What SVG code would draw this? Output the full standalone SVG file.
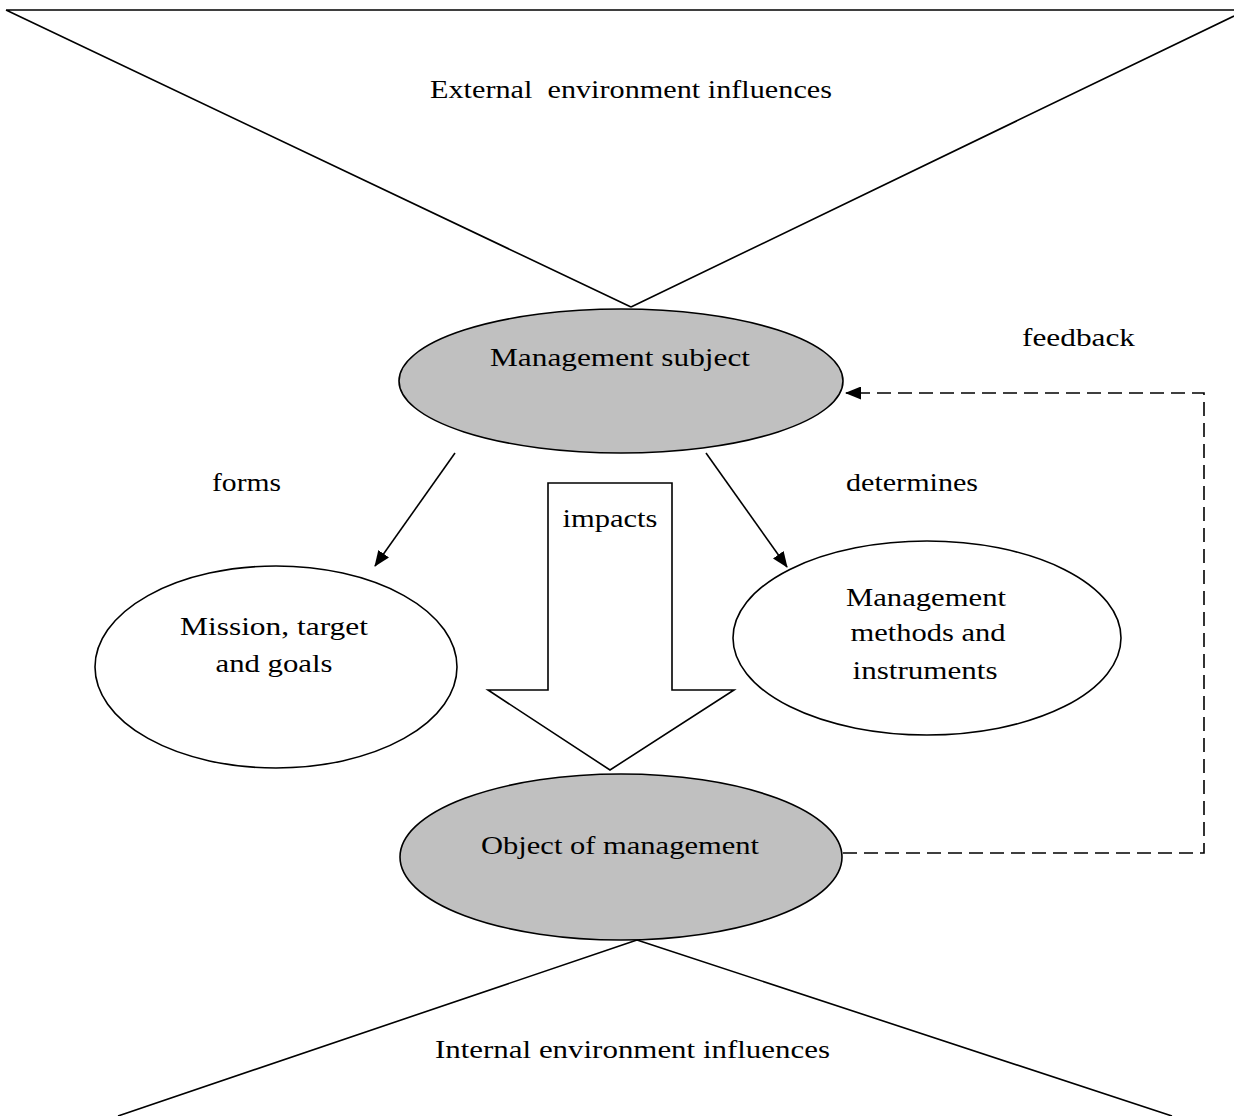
<svg xmlns="http://www.w3.org/2000/svg" width="1234" height="1116" viewBox="0 0 1234 1116">
<style>
.t{font-family:"Liberation Serif","Times New Roman",serif;font-size:26px;fill:#000}
.ln{stroke:#000;stroke-width:1.6;fill:none}
.el{stroke:#000;stroke-width:1.6}
</style>
<defs>
<marker id="ah" markerWidth="16" markerHeight="13" refX="15" refY="6.5" orient="auto" markerUnits="userSpaceOnUse">
<path d="M0,0 L16,6.5 L0,13 Z" fill="#000"/>
</marker>
</defs>
<rect width="1234" height="1116" fill="#fff"/>
<g id="external">
<path class="ln" d="M6,10 L1234,10 M6,10 L631,307 M1234,16 L631,307"/>
<text class="t" x="430" y="98" textLength="402" lengthAdjust="spacingAndGlyphs" xml:space="preserve">External  environment influences</text>
</g>
<g id="internal">
<path class="ln" d="M637,940 L118,1116 M637,940 L1172,1116"/>
<text class="t" x="435" y="1058" textLength="395" lengthAdjust="spacingAndGlyphs">Internal environment influences</text>
</g>
<g id="connectors">
<line class="ln" x1="455" y1="453" x2="375" y2="566" marker-end="url(#ah)"/>
<line class="ln" x1="706" y1="453" x2="787" y2="567" marker-end="url(#ah)"/>
<polyline class="ln" stroke-dasharray="14,7" points="843,853 1204,853 1204,393 846,393" marker-end="url(#ah)"/>
<text class="t" x="212" y="491" textLength="69" lengthAdjust="spacingAndGlyphs">forms</text>
<text class="t" x="846" y="491" textLength="132" lengthAdjust="spacingAndGlyphs">determines</text>
<text class="t" x="1022" y="346" textLength="113" lengthAdjust="spacingAndGlyphs">feedback</text>
</g>
<g id="impacts">
<path class="ln" fill="#fff" d="M548,483 L672,483 L672,690 L734,690 L610,770 L488,690 L548,690 Z"/>
<text class="t" x="610" y="527" text-anchor="middle" textLength="95" lengthAdjust="spacingAndGlyphs">impacts</text>
</g>
<g id="subject">
<ellipse class="el" cx="621" cy="381" rx="222" ry="72" fill="#c0c0c0"/>
<text class="t" x="620" y="366" text-anchor="middle" textLength="260" lengthAdjust="spacingAndGlyphs">Management subject</text>
</g>
<g id="mission">
<ellipse class="el" cx="276" cy="667" rx="181" ry="101" fill="#fff"/>
<text class="t" x="274" y="635" text-anchor="middle" textLength="188" lengthAdjust="spacingAndGlyphs">Mission, target</text>
<text class="t" x="274" y="672" text-anchor="middle" textLength="117" lengthAdjust="spacingAndGlyphs">and goals</text>
</g>
<g id="methods">
<ellipse class="el" cx="927" cy="638" rx="194" ry="97" fill="#fff"/>
<text class="t" x="926" y="606" text-anchor="middle" textLength="160" lengthAdjust="spacingAndGlyphs">Management</text>
<text class="t" x="928" y="641" text-anchor="middle" textLength="155" lengthAdjust="spacingAndGlyphs">methods and</text>
<text class="t" x="925" y="679" text-anchor="middle" textLength="145" lengthAdjust="spacingAndGlyphs">instruments</text>
</g>
<g id="object">
<ellipse class="el" cx="621" cy="857" rx="221" ry="83" fill="#c0c0c0"/>
<text class="t" x="620" y="854" text-anchor="middle" textLength="278" lengthAdjust="spacingAndGlyphs">Object of management</text>
</g>
</svg>
